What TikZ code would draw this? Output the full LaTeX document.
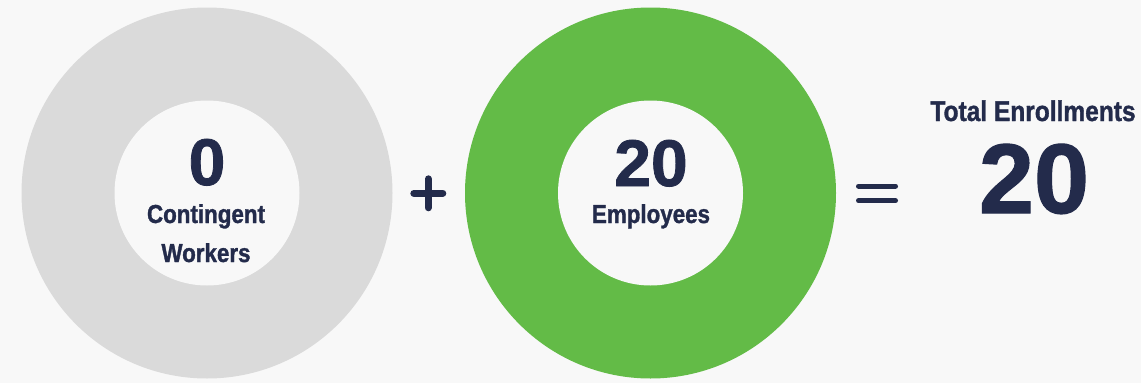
\documentclass[tikz,border=0pt]{standalone}
\usepackage{fontspec}
\setmainfont{Liberation Sans}[FakeStretch=0.86,BoldFeatures={FakeBold=1.2}]
\newfontfamily\numfont{Liberation Sans}[BoldFeatures={FakeBold=1.2}]
\usetikzlibrary{positioning}
\definecolor{pagebg}{HTML}{F8F8F8}
\definecolor{ringgray}{HTML}{DADADA}
\definecolor{ringgreen}{HTML}{63BB47}
\definecolor{navy}{HTML}{232B4B}
\tikzset{ring/.style={circle,draw=none,inner sep=0pt,minimum size=371pt}}
\tikzset{hole/.style={circle,draw=none,fill=pagebg,inner sep=0pt,minimum size=185pt}}
\tikzset{countlabel/.style={anchor=base,inner sep=0pt,text=navy,font=\numfont\bfseries\fontsize{66}{66}\selectfont}}
\tikzset{namelabel/.style={anchor=base,inner sep=0pt,text=navy,font=\bfseries\fontsize{26}{26}\selectfont}}
\tikzset{opsign/.style={draw=navy,line cap=round}}

\begin{document}
\begin{tikzpicture}[x=1pt,y=-1pt]
    \fill[pagebg] (0,0) rectangle (1141,383);
    \useasboundingbox (0,0) rectangle (1141,383);

    \node[ring,fill=ringgray] (grayring) at (207,193) {};
    \node[hole] (grayhole) at (grayring.center) {};
    \node[ring,fill=ringgreen] (greenring) at (650.5,193) {};
    \node[hole] (greenhole) at (greenring.center) {};

    \node[countlabel] (contcount) at (207,185) {0};
    \node[namelabel] (contname) at (206,223) {Contingent};
    \node[namelabel] (contname2) at (206,262) {Workers};

    \node[countlabel] (empcount) at (651,186) {20};
    \node[namelabel] (empname) at (651,223) {Employees};

    \node[namelabel,font=\bfseries\fontsize{28.5}{28.5}\selectfont] (totalname) at (1033,121) {Total Enrollments};
    \node[countlabel,font=\numfont\bfseries\fontsize{99}{99}\selectfont] (totalcount) at (1034,213) {20};

    \coordinate (plus) at (428.3,193.3);
    \draw[opsign,line width=7pt] ([xshift=-14.5pt]plus) -- ([xshift=14.5pt]plus);
    \draw[opsign,line width=7pt] ([yshift=-14.5pt]plus) -- ([yshift=14.5pt]plus);

    \coordinate (equal) at (877,193.4);
    \draw[opsign,line width=5pt] ([xshift=-18.5pt,yshift=7.3pt]equal) -- ([xshift=18.5pt,yshift=7.3pt]equal);
    \draw[opsign,line width=5pt] ([xshift=-18.5pt,yshift=-7.3pt]equal) -- ([xshift=18.5pt,yshift=-7.3pt]equal);
\end{tikzpicture}
\end{document}
